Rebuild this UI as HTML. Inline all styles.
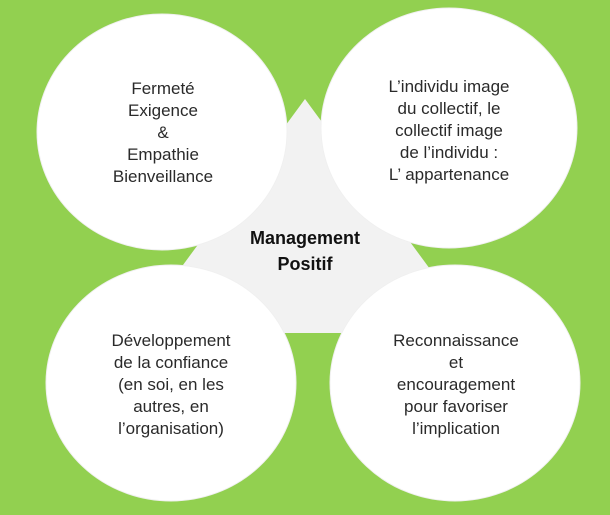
<!DOCTYPE html>
<html><head><style>
html,body{margin:0;padding:0;background:#92d050;}
svg{display:block}
text{font-family:"Liberation Sans",sans-serif;font-size:17px;fill:#2a2a2a;}
</style></head><body>
<svg width="610" height="515" viewBox="0 0 610 515">
<rect width="610" height="515" fill="#92d050"/>
<polygon points="305,99 133,333 477,333" fill="#f2f2f2"/>
<g fill="#fff" stroke="#f0f0f0" stroke-width="1">
<ellipse cx="162" cy="132" rx="125" ry="118"/>
<ellipse cx="449" cy="128" rx="128" ry="120"/>
<ellipse cx="171" cy="383" rx="125" ry="118"/>
<ellipse cx="455" cy="383" rx="125" ry="118"/>
</g>
<g text-anchor="middle">
<text x="163" y="94">Fermeté</text>
<text x="163" y="116">Exigence</text>
<text x="163" y="138">&amp;</text>
<text x="163" y="160">Empathie</text>
<text x="163" y="182">Bienveillance</text>

<text x="449" y="92">L’individu image</text>
<text x="449" y="114">du collectif, le</text>
<text x="449" y="136">collectif image</text>
<text x="449" y="158">de l’individu :</text>
<text x="449" y="180">L’ appartenance</text>

<text x="171" y="346">Développement</text>
<text x="171" y="368">de la confiance</text>
<text x="171" y="390">(en soi, en les</text>
<text x="171" y="412">autres, en</text>
<text x="171" y="434">l’organisation)</text>

<text x="456" y="346">Reconnaissance</text>
<text x="456" y="368">et</text>
<text x="456" y="390">encouragement</text>
<text x="456" y="412">pour favoriser</text>
<text x="456" y="434">l’implication</text>

<text x="305" y="244" style="font-weight:bold;font-size:18px;fill:#111">Management</text>
<text x="305" y="270" style="font-weight:bold;font-size:18px;fill:#111">Positif</text>
</g>
</svg>
</body></html>
